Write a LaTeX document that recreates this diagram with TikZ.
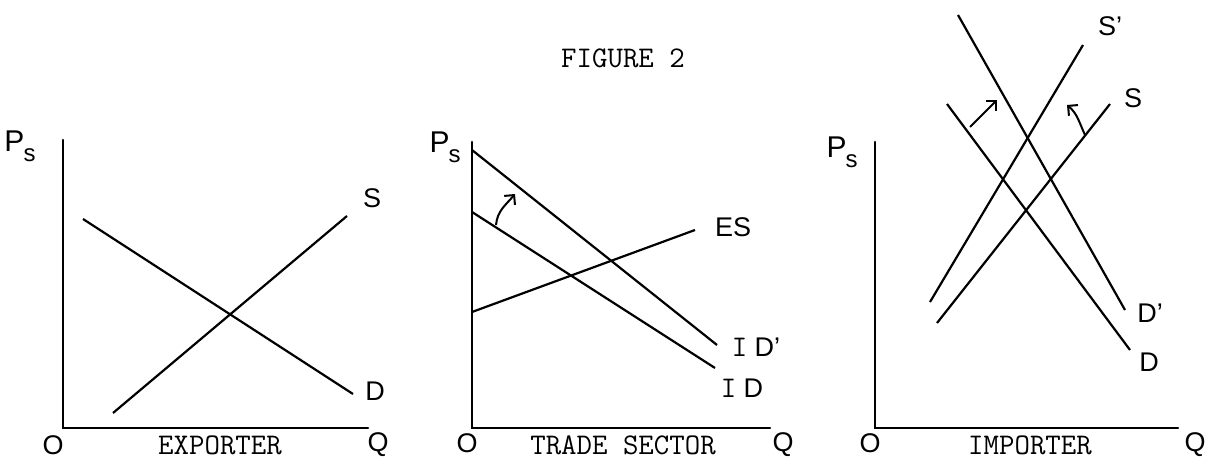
\documentclass[tikz,border=0pt]{standalone}
\usepackage{fontspec}
\setmainfont{Liberation Sans}
\usetikzlibrary{arrows.meta}
\newcommand{\Psym}{{\fontsize{15}{15}\selectfont P}\kern-0.5pt\raisebox{-0.7ex}{\fontsize{12}{12}\selectfont s}}
\newcommand{\Ibar}{{\ttfamily\fontsize{15}{15}\selectfont I}}

\begin{document}
\begin{tikzpicture}[x=0.5pt,y=0.5pt,
  axis/.style={line width=1.3pt,line cap=round},
  curve/.style={line width=1.1pt},
  shift arrow/.style={-{Straight Barb[length=3.5pt,width=7pt]},line width=1pt},
  hand/.style={font=\fontsize{13.5}{15}\selectfont},
  typed/.style={font=\ttfamily\fontsize{15}{17}\selectfont}
]
\useasboundingbox (0,0) rectangle (1209,460);
\node[typed] (title) at (623,402) {FIGURE 2};

% exporter
\begin{scope}[shift={(63,32)}]
  \coordinate (eo) at (0,0);
  \coordinate (etop) at (0,288);
  \coordinate (eend) at (305,0);
  \draw[axis] (etop)--(eo)--(eend);
  \coordinate (ed0) at (20,209);
  \coordinate (ed1) at (290,34);
  \coordinate (es0) at (50,15);
  \coordinate (es1) at (284,212);
  \draw[curve] (ed0)--(ed1);
  \draw[curve] (es0)--(es1);
  \node[hand] (eS) at (309,230) {S};
  \node[hand] (eD) at (312,37) {D};
  \node[hand] (eP) at (-43,282) {\Psym};
  \node[hand] (eO) at (-10,-17) {O};
  \node[hand] (eQ) at (315,-17) {Q};
  \node[typed] (elab) at (157,-17) {EXPORTER};
\end{scope}

% trade sector
\begin{scope}[shift={(472,32)}]
  \coordinate (to) at (0,0);
  \coordinate (ttop) at (0,286);
  \coordinate (tend) at (298,0);
  \draw[axis] (ttop)--(to)--(tend);
  \coordinate (tid1a) at (0,278);
  \coordinate (tid1b) at (245,83);
  \coordinate (tida) at (0,216);
  \coordinate (tidb) at (243,60);
  \coordinate (tesa) at (0,116);
  \coordinate (tesb) at (223,198);
  \draw[curve] (tid1a)--(tid1b);
  \draw[curve] (tida)--(tidb);
  \draw[curve] (tesa)--(tesb);
  \coordinate (tarr0) at (24,203);
  \coordinate (tarr1) at (43,234);
  \draw[shift arrow] (tarr0) to[out=85,in=230] (tarr1);
  \node[hand] (tES) at (261,201) {ES};
  \node[hand] (tID1) at (284,81) {\Ibar\ D’};
  \node[hand] (tID) at (270,40) {\Ibar\ D};
  \node[hand] (tP) at (-27,281) {\Psym};
  \node[hand] (tO) at (-5,-15) {O};
  \node[hand] (tQ) at (311,-17) {Q};
  \node[typed] (tlab) at (151,-17) {TRADE SECTOR};
\end{scope}

% importer
\begin{scope}[shift={(875,32)}]
  \coordinate (io) at (0,0);
  \coordinate (itop) at (0,286);
  \coordinate (iend) at (303,0);
  \draw[axis] (itop)--(io)--(iend);
  \coordinate (id1a) at (83,413);
  \coordinate (id1b) at (250,118);
  \coordinate (ida) at (72,324);
  \coordinate (idb) at (255,78);
  \coordinate (is1a) at (55,126);
  \coordinate (is1b) at (208,383);
  \coordinate (isa) at (62,105);
  \coordinate (isb) at (235,324);
  \foreach \a/\b in {id1a/id1b,ida/idb,is1a/is1b,isa/isb}
    \draw[curve] (\a)--(\b);
  \coordinate (iarr0) at (95,301);
  \coordinate (iarr1) at (122,328);
  \draw[shift arrow] (iarr0)--(iarr1);
  \coordinate (iarr2) at (210,293);
  \coordinate (iarr3) at (192,323);
  \draw[shift arrow] (iarr2) to[out=115,in=-40] (iarr3);
  \node[hand] (iS1) at (235,402) {S’};
  \node[hand] (iS) at (258,330) {S};
  \node[hand] (iD1) at (275,115) {D’};
  \node[hand] (iD) at (274,66) {D};
  \node[hand] (iP) at (-33,276) {\Psym};
  \node[hand] (iO) at (-5,-15) {O};
  \node[hand] (iQ) at (320,-17) {Q};
  \node[typed] (ilab) at (155,-17) {IMPORTER};
\end{scope}
\end{tikzpicture}
\end{document}
